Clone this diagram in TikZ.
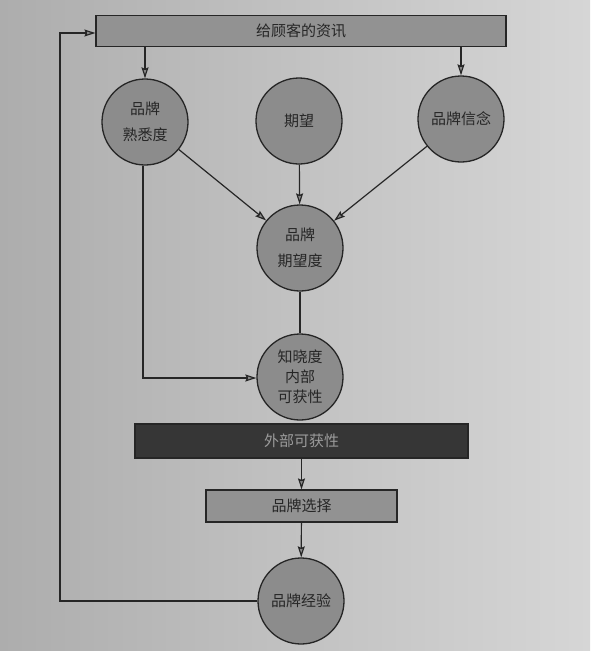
\documentclass[tikz,border=0pt]{standalone}
\usepackage{fontspec}
\newfontfamily\cjk{Noto Sans CJK SC}
\usetikzlibrary{arrows.meta}
\definecolor{bgl}{HTML}{ADADAD}
\definecolor{bgr}{HTML}{D6D6D6}
\definecolor{nodefill}{HTML}{8C8C8C}
\definecolor{boxfill}{HTML}{929292}
\definecolor{darkfill}{HTML}{363636}
\definecolor{darktext}{HTML}{9C9C9C}
\definecolor{ink}{HTML}{262626}
\begin{document}
\begin{tikzpicture}[x=1pt,y=-1pt,
  every node/.style={font=\cjk\fontsize{15}{26}\selectfont, text=ink},
  circ/.style={circle, draw=ink, line width=1.3pt, fill=nodefill, minimum size=86pt, inner sep=0pt, align=center},
  bar/.style={rectangle, draw=ink, line width=1.2pt, fill=boxfill, inner sep=0pt},
  conn/.style={draw=ink, line width=1.2pt},
  arr/.style={conn, -{Stealth[length=11pt,width=7pt,inset=1.5pt,fill=nodefill]}}
]
\shade[left color=bgl, right color=bgr] (0,0) rectangle (590,651);
\useasboundingbox (0,0) rectangle (590,651);

\node[bar, minimum width=410pt, minimum height=31pt] (info) at (301,31) {给顾客的资讯};
\node[circ] (fam) at (145,122) {品牌\\熟悉度};
\node[circ] (exp) at (299,121) {期望};
\node[circ] (bel) at (461,119) {品牌信念};
\node[circ] (des) at (300,248) {品牌\\期望度};
\node[circ, font=\cjk\fontsize{15}{20}\selectfont] (aw) at (300,377) {知晓度\\内部\\可获性};
\node[bar, fill=darkfill, text=darktext, minimum width=333pt, minimum height=34pt] (ext) at (301.5,441) {外部可获性};
\node[bar, minimum width=191pt, minimum height=32pt] (cho) at (301.5,506) {品牌选择};
\node[circ] (xp) at (301,601) {品牌经验};

\coordinate (c1) at (60,601);
\coordinate (c2) at (60,33);
\coordinate (c3) at (143,378);

\draw[arr] (info.south -| fam) -- (fam);
\draw[arr] (info.south -| bel) -- (bel);
\draw[arr] (fam) -- (des);
\draw[arr] (exp) -- (des);
\draw[arr] (bel) -- (des);
\draw[conn] (des) -- (aw);
\draw[arr] (fam.south -| c3) -- (c3) -- (aw.west |- c3);
\draw[arr] (ext) -- (cho);
\draw[arr] (cho) -- (xp);
\draw[arr] (xp.west) -- (c1) -- (c2) -- (info.west |- c2);
\end{tikzpicture}
\end{document}
